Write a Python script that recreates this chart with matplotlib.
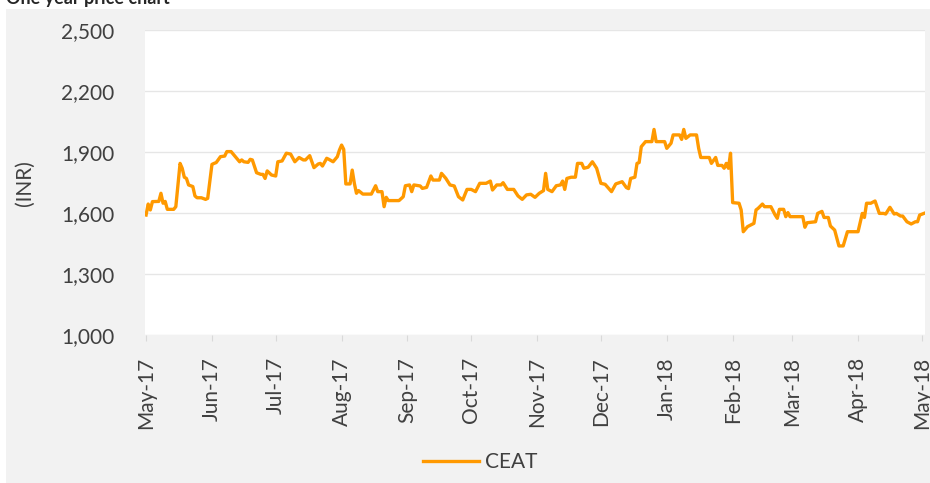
import numpy as np
import pandas as pd
import matplotlib
matplotlib.use("Agg")
import matplotlib.pyplot as plt
import matplotlib.dates as mdates
from matplotlib.patches import Rectangle

# days since 1 May 2017 and closing price (INR)
day = [0, 1, 2, 3, 6, 7, 8, 9, 10, 13, 14, 16, 17, 18, 19, 20, 22, 23, 24, 26,
       28, 29, 31, 32, 33, 35, 37, 38, 40, 42, 44, 45, 46, 48, 49, 50, 52, 54, 55, 56,
       57, 59, 61, 62, 64, 66, 68, 70, 72, 74, 75, 77, 78, 79, 81, 82, 83, 85, 86, 88,
       90, 91, 92, 93, 94, 96, 97, 98, 99, 100, 102, 106, 108, 109, 111, 112, 113, 114, 119, 121,
       122, 124, 125, 126, 129, 130, 132, 134, 135, 138, 139, 141, 143, 145, 147, 149, 151, 153, 155, 157,
       160, 162, 163, 165, 167, 168, 170, 173, 175, 177, 179, 181, 183, 185, 187, 188, 189, 191, 193, 195,
       196, 197, 198, 200, 202, 203, 205, 206, 208, 210, 211, 212, 214, 216, 219, 221, 224, 226, 227, 228,
       230, 231, 232, 233, 235, 238, 239, 240, 244, 245, 247, 248, 251, 252, 253, 254, 256, 259, 260, 261,
       265, 266, 268, 269, 271, 272, 273, 274, 275, 276, 279, 280, 281, 283, 286, 287, 288, 290, 291, 294,
       296, 297, 298, 300, 301, 302, 303, 309, 310, 311, 315, 316, 318, 319, 321, 322, 324, 326, 328, 330,
       335, 337, 338, 339, 341, 343, 345, 347, 348, 350, 352, 353, 355, 356, 358, 360, 362, 363, 364, 366]
price = [1590, 1644, 1615, 1656, 1657, 1697, 1648, 1657, 1618, 1618, 1631, 1844, 1820, 1776, 1770, 1738, 1730, 1684, 1675, 1675,
         1667, 1672, 1839, 1844, 1848, 1877, 1880, 1902, 1902, 1877, 1852, 1861, 1852, 1849, 1864, 1861, 1798, 1790, 1790, 1770,
         1807, 1787, 1782, 1852, 1856, 1894, 1890, 1852, 1873, 1861, 1861, 1882, 1852, 1823, 1841, 1844, 1831, 1869, 1864, 1852,
         1877, 1910, 1934, 1913, 1743, 1743, 1811, 1746, 1697, 1710, 1693, 1693, 1734, 1705, 1705, 1631, 1677, 1661, 1661, 1680,
         1734, 1738, 1705, 1738, 1733, 1721, 1726, 1782, 1762, 1762, 1795, 1771, 1738, 1733, 1680, 1664, 1716, 1716, 1705, 1746,
         1746, 1757, 1713, 1738, 1738, 1749, 1716, 1716, 1684, 1667, 1689, 1692, 1677, 1697, 1710, 1795, 1716, 1705, 1734, 1738,
         1757, 1716, 1770, 1776, 1776, 1844, 1844, 1820, 1825, 1852, 1836, 1820, 1746, 1741, 1705, 1743, 1754, 1725, 1720, 1770,
         1776, 1844, 1848, 1926, 1951, 1951, 2011, 1951, 1951, 1918, 1943, 1984, 1984, 1962, 2011, 1967, 1984, 1984, 1918, 1873,
         1873, 1844, 1873, 1834, 1834, 1820, 1844, 1820, 1894, 1651, 1648, 1615, 1508, 1533, 1549, 1615, 1623, 1644, 1631, 1631,
         1590, 1574, 1618, 1618, 1582, 1602, 1582, 1582, 1530, 1552, 1557, 1598, 1608, 1578, 1578, 1536, 1516, 1438, 1438, 1508,
         1508, 1598, 1578, 1648, 1648, 1659, 1598, 1598, 1595, 1628, 1595, 1598, 1585, 1585, 1557, 1546, 1557, 1557, 1590, 1598]
yticks = [1000, 1300, 1600, 1900, 2200, 2500]

start = pd.Timestamp("2017-05-01")
dates = start + pd.to_timedelta(day, unit="D")

plt.rcParams['font.family'] = ['Lato', 'DejaVu Sans']
txt = '#404040'

fig = plt.figure(figsize=(9.3, 4.83), dpi=100, facecolor='white')
# grey chart area
fig.patches.append(Rectangle((6 / 930, 0), 1, 1 - 9 / 483, transform=fig.transFigure,
                             facecolor='#f2f2f2', edgecolor='none', zorder=-1))
# title sits at the top edge; only its lower part shows, as in the source
fig.text(6 / 930, 1 - 4 / 483, 'One year price chart', fontsize=13, fontweight='bold',
         color='#262626', ha='left', va='baseline')

ax = fig.add_axes([145 / 930, 1 - 335 / 483, 780 / 930, 305 / 483])
ax.set_facecolor('white')
ax.plot(dates, price, color='#ff9900', lw=2.4, solid_joinstyle='round', label='CEAT')

ax.set_ylim(1000, 2500)
ax.set_yticks(yticks)
ax.yaxis.set_major_formatter(matplotlib.ticker.FuncFormatter(lambda v, p: f'{v:,.0f}'))
ax.set_xlim(start - pd.Timedelta(days=0.5), start + pd.Timedelta(days=366.5))
ax.xaxis.set_major_locator(mdates.MonthLocator())
ax.xaxis.set_major_formatter(mdates.DateFormatter('%b-%y'))

ax.grid(axis='y', color='#e6e6e6', lw=1)
ax.set_axisbelow(True)
for s in ax.spines.values():
    s.set_visible(False)
ax.tick_params(axis='y', length=0, pad=22, labelsize=15, labelcolor=txt)
ax.tick_params(axis='x', length=4, color='#d9d9d9', pad=12, labelsize=15, labelcolor=txt,
               labelrotation=90)

fig.text(25 / 930, 1 - 183 / 483, '(INR)', rotation=90, fontsize=15, color=txt,
         ha='center', va='center')

fig.legend(loc='center', bbox_to_anchor=(480 / 930, 1 - 462 / 483), frameon=False,
           fontsize=15, handlelength=2.7, handletextpad=0.3, labelcolor=txt)

fig.savefig('out.png', dpi=100, facecolor='white')
